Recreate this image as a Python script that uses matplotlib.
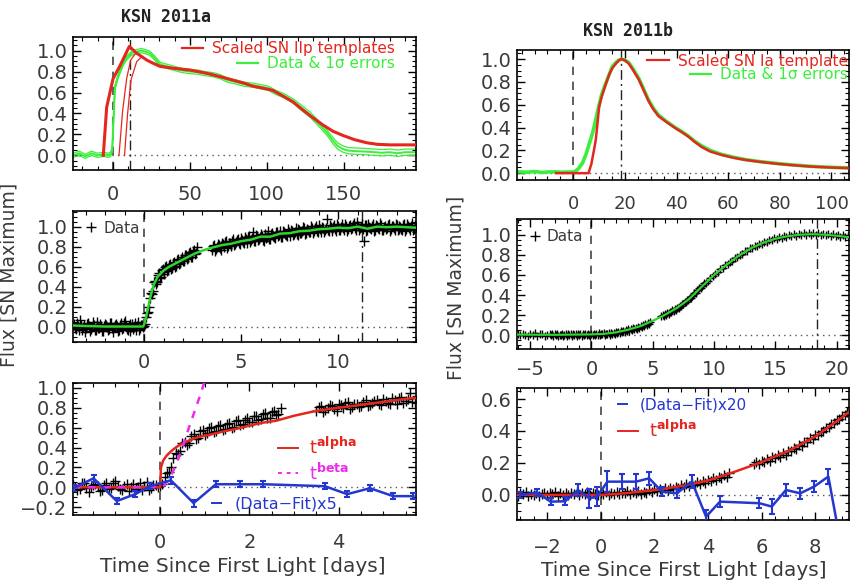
import matplotlib
matplotlib.use("Agg")
import matplotlib.pyplot as plt
from matplotlib.ticker import MultipleLocator, FixedLocator
from matplotlib.legend import Legend
from matplotlib.lines import Line2D

plt.rcParams['font.family'] = ['DejaVu Sans']
plt.rcParams['mathtext.fontset'] = 'dejavusans'

# ---------------- KSN 2011a ----------------
# full light curve (days since first light) with 1-sigma errors
a_lc_t = [-26, -22, -18, -14, -10, -6, -3, -1.5, -0.5, 0.5, 1.3, 3, 4.5, 6.7, 9, 12, 15, 18.6,
          21, 24, 27, 30.5, 35, 40, 45, 50, 55, 60, 65, 70, 74, 80, 85, 91, 96, 101, 106, 111,
          117, 122, 128, 132, 136.5, 140, 143, 146, 149.5, 153, 158, 165, 170, 175, 180, 185,
          190, 197]
a_lc_f = [0.00, 0.02, -0.01, 0.02, 0.00, 0.01, 0.00, 0.01, 0.05, 0.40, 0.65, 0.74, 0.80, 0.88,
          0.93, 0.975, 0.99, 1.00, 0.99, 0.975, 0.93, 0.87, 0.85, 0.83, 0.81, 0.80, 0.795, 0.78,
          0.77, 0.75, 0.72, 0.70, 0.68, 0.67, 0.655, 0.64, 0.60, 0.57, 0.52, 0.46, 0.39, 0.33,
          0.26, 0.20, 0.14, 0.09, 0.06, 0.045, 0.04, 0.035, 0.03, 0.025, 0.03, 0.02, 0.03, 0.03]
a_lc_err = [0.02, 0.02, 0.02, 0.02, 0.02, 0.02, 0.02, 0.02, 0.02, 0.02, 0.02, 0.02, 0.02, 0.02,
            0.02, 0.02, 0.02, 0.02, 0.02, 0.02, 0.02, 0.02, 0.02, 0.02, 0.02, 0.02, 0.02, 0.02,
            0.02, 0.02, 0.02, 0.02, 0.02, 0.02, 0.02, 0.02, 0.02, 0.02, 0.02, 0.025, 0.025, 0.025,
            0.025, 0.025, 0.03, 0.03, 0.03, 0.03, 0.03, 0.03, 0.03, 0.03, 0.03, 0.03, 0.03, 0.03]
# scaled SN IIp templates
a_tmpl_t = [-6.3, -4.1, 0, 4.7, 10.6, 15, 21.9, 26, 30.5, 40, 50, 62, 73.8, 85, 91, 98, 104,
            110, 117, 122, 128, 136.5, 143, 149.5, 157, 165, 172, 180, 197]
a_tmpl_f = [0.0, 0.46, 0.73, 0.86, 1.04, 0.98, 0.91, 0.88, 0.85, 0.83, 0.815, 0.78, 0.735,
            0.69, 0.66, 0.64, 0.62, 0.57, 0.51, 0.45, 0.38, 0.29, 0.23, 0.19, 0.15, 0.12,
            0.105, 0.10, 0.10]
a_tmpl2_t = [3.9, 6.3, 8.9, 11.5, 15.0]
a_tmpl2_f = [0.0, 0.43, 0.735, 0.91, 0.98]
a_tmpl3_t = [7.5, 9.5, 11.7, 15.4, 18.6, 22.0]
a_tmpl3_f = [0.0, 0.40, 0.72, 0.895, 0.94, 0.91]
a_peak = 11.2

# rise photometry (two interleaved cadences)
a_rise_t = [-3.6, -3.5, -3.4, -3.3, -3.2, -3.1, -3.0, -2.9, -2.8, -2.7, -2.6, -2.5, -2.4, -2.3,
            -2.2, -2.1, -2.0, -1.9, -1.8, -1.7, -1.6, -1.5, -1.4, -1.3, -1.2, -1.1, -1.0, -0.9,
            -0.8, -0.7, -0.6, -0.5, -0.4, -0.3, -0.2, -0.1, 0.0, 0.1, 0.2, 0.3, 0.4, 0.5, 0.6,
            0.7, 0.8, 0.9, 1.0, 1.1, 1.2, 1.3, 1.4, 1.5, 1.6, 1.7, 1.8, 1.9, 2.0, 2.1, 2.2, 2.3,
            2.4, 2.5, 2.6, 2.7,
            3.5, 3.6, 3.7, 3.8, 3.9, 4.0, 4.1, 4.2, 4.3, 4.4, 4.5, 4.6, 4.7, 4.8, 4.9, 5.0, 5.1,
            5.2, 5.3, 5.4, 5.5, 5.6, 5.7, 5.8, 5.9, 6.0, 6.1, 6.2, 6.3, 6.4, 6.5, 6.6, 6.7, 6.8,
            6.9, 7.0, 7.1, 7.2, 7.3, 7.4, 7.5, 7.6, 7.7, 7.8, 7.9, 8.0, 8.1, 8.2, 8.3, 8.4, 8.5,
            8.6, 8.7, 8.8, 8.9, 9.0, 9.1, 9.2, 9.3, 9.4, 9.5, 9.6, 9.7, 9.8, 9.9, 10.0, 10.1,
            10.2, 10.3, 10.4, 10.5, 10.6, 10.7, 10.8, 10.9, 11.0, 11.1, 11.2, 11.3, 11.4, 11.5,
            11.6, 11.7, 11.8, 11.9, 12.0, 12.1, 12.2, 12.3, 12.4, 12.5, 12.6, 12.7, 12.8, 12.9,
            13.0, 13.1, 13.2, 13.3, 13.4, 13.5, 13.6, 13.7, 13.8, 13.9, 14.0]
a_rise_f = [0.03, -0.02, 0.01, 0.07, -0.03, 0.02, -0.01, 0.04, -0.04, 0.00, 0.02, -0.03, 0.05,
            -0.01, 0.01, -0.04, 0.03, 0.00, -0.02, 0.04, -0.05, 0.02, 0.01, -0.03, 0.04, -0.01,
            0.06, -0.02, 0.01, -0.04, 0.03, 0.00, -0.03, 0.05, -0.01, 0.02, 0.01, 0.10, 0.15,
            0.29, 0.33, 0.45, 0.43, 0.52, 0.49, 0.57, 0.53, 0.60, 0.56, 0.62, 0.58, 0.64, 0.60,
            0.67, 0.63, 0.68, 0.66, 0.72, 0.68, 0.74, 0.70, 0.76, 0.73, 0.80,
            0.77, 0.82, 0.78, 0.83, 0.79, 0.84, 0.80, 0.86, 0.81, 0.84, 0.82, 0.88, 0.83, 0.87,
            0.84, 0.89, 0.85, 0.90, 0.84, 0.91, 0.87, 0.95, 0.86, 0.91, 0.88, 0.93, 0.87, 0.92,
            0.89, 0.96, 0.88, 0.94, 0.90, 0.95, 0.91, 0.96, 0.90, 0.95, 0.92, 0.98, 0.91, 0.96,
            0.93, 0.99, 0.92, 0.97, 0.94, 1.00, 0.93, 0.98, 0.95, 1.01, 0.94, 0.99, 0.96, 1.02,
            0.95, 0.99, 0.97, 1.08, 0.96, 1.00, 0.98, 1.02, 0.96, 1.01, 0.97, 1.03, 0.97, 1.01,
            0.98, 1.02, 0.99, 1.04, 0.97, 1.01, 0.99, 1.03, 0.86, 1.02, 0.97, 1.00, 0.98, 1.03,
            0.97, 1.01, 0.98, 1.02, 0.97, 1.01, 0.99, 1.03, 0.98, 1.01, 0.97, 1.02, 0.98, 1.00,
            0.97, 1.03, 0.98, 1.01, 0.97, 1.04, 0.98, 1.00]
a_rise2_t = [-3.55, -3.45, -3.35, -3.25, -3.15, -3.05, -2.95, -2.85, -2.75, -2.65, -2.55, -2.45,
             -2.35, -2.25, -2.15, -2.05, -1.95, -1.85, -1.75, -1.65, -1.55, -1.45, -1.35, -1.25,
             -1.15, -1.05, -0.95, -0.85, -0.75, -0.65, -0.55, -0.45, -0.35, -0.25, -0.15, -0.05,
             0.05, 0.15, 0.25, 0.35, 0.45, 0.55, 0.65, 0.75, 0.85, 0.95, 1.05, 1.15, 1.25, 1.35,
             1.45, 1.55, 1.65, 1.75, 1.85, 1.95, 2.05, 2.15, 2.25, 2.35, 2.45, 2.55, 2.65,
             3.55, 3.65, 3.75, 3.85, 3.95, 4.05, 4.15, 4.25, 4.35, 4.45, 4.55, 4.65, 4.75, 4.85,
             4.95, 5.05, 5.15, 5.25, 5.35, 5.45, 5.55, 5.65, 5.75, 5.85, 5.95, 6.05, 6.15, 6.25,
             6.35, 6.45, 6.55, 6.65, 6.75, 6.85, 6.95, 7.05, 7.15, 7.25, 7.35, 7.45, 7.55, 7.65,
             7.75, 7.85, 7.95, 8.05, 8.15, 8.25, 8.35, 8.45, 8.55, 8.65, 8.75, 8.85, 8.95, 9.05,
             9.15, 9.25, 9.35, 9.45, 9.55, 9.65, 9.75, 9.85, 9.95, 10.05, 10.15, 10.25, 10.35,
             10.45, 10.55, 10.65, 10.75, 10.85, 10.95, 11.05, 11.15, 11.25, 11.35, 11.45, 11.55,
             11.65, 11.75, 11.85, 11.95, 12.05, 12.15, 12.25, 12.35, 12.45, 12.55, 12.65, 12.75,
             12.85, 12.95, 13.05, 13.15, 13.25, 13.35, 13.45, 13.55, 13.65, 13.75, 13.85, 13.95]
a_rise2_f = [-0.01, 0.04, -0.03, 0.02, 0.00, -0.05, 0.03, 0.01, -0.02, 0.05, -0.03, 0.02, -0.01,
             0.03, -0.04, 0.01, 0.02, -0.03, 0.04, -0.01, 0.00, 0.03, -0.04, 0.02, -0.02, 0.04,
             0.01, -0.03, 0.03, 0.00, -0.02, 0.04, 0.01, -0.03, 0.02, 0.00,
             0.03, 0.14, 0.20, 0.34, 0.36, 0.46, 0.45, 0.54, 0.50, 0.58, 0.55, 0.61, 0.57, 0.63,
             0.59, 0.65, 0.61, 0.68, 0.64, 0.70, 0.66, 0.72, 0.69, 0.75, 0.70, 0.77, 0.74,
             0.81, 0.76, 0.80, 0.82, 0.77, 0.83, 0.85, 0.79, 0.84, 0.81, 0.86, 0.82, 0.85, 0.88,
             0.83, 0.87, 0.84, 0.88, 0.90, 0.85, 0.89, 0.86, 0.92, 0.87, 0.90, 0.91, 0.86, 0.93,
             0.90, 0.88, 0.93, 0.91, 0.89, 0.95, 0.92, 0.90, 0.96, 0.93, 0.91, 0.95, 0.97, 0.92,
             0.95, 0.93, 0.98, 0.94, 0.96, 0.99, 0.94, 0.97, 0.95, 0.99, 0.96, 1.01, 0.95, 0.98,
             1.00, 0.95, 0.99, 0.97, 1.02, 0.96, 1.00, 0.98, 1.03, 0.97, 1.00, 0.99, 1.03, 0.96,
             1.01, 0.98, 1.02, 0.99, 1.05, 0.97, 1.00, 0.98, 1.02, 0.96, 1.03, 0.99, 1.01, 0.96,
             1.02, 0.99, 1.04, 0.97, 1.00, 0.98, 1.02, 0.96, 1.01, 0.99, 1.03, 0.97, 1.01, 0.98,
             1.02, 0.96, 1.03, 0.99, 1.01, 0.97, 1.02]
a_smooth_t = [-3.66, -3.0, -2.0, -1.0, -0.05, 0.0, 0.1, 0.2, 0.3, 0.5, 0.7, 1.0, 1.3, 1.6, 2.0,
              2.3, 2.6, 3.0, 3.5, 4.0, 4.5, 5.0, 5.5, 6.0, 6.5, 7.0, 7.5, 8.0, 8.5, 9.0, 9.5,
              10.0, 10.5, 11.0, 11.5, 12.0, 12.5, 13.0, 13.5, 14.0]
a_smooth_f = [0.01, 0.005, 0.0, 0.0, 0.0, 0.02, 0.09, 0.18, 0.28, 0.42, 0.50, 0.56, 0.60, 0.63,
              0.67, 0.70, 0.73, 0.76, 0.79, 0.815, 0.83, 0.855, 0.87, 0.90, 0.90, 0.93, 0.935,
              0.955, 0.96, 0.975, 0.98, 0.99, 0.985, 1.0, 0.98, 1.0, 0.995, 1.0, 0.995, 0.99]
# early-time power-law fits and residuals
a_fit_t = [-1.95, -1.0, -0.02, 0.0, 0.02, 0.07, 0.15, 0.24, 0.35, 0.45, 0.6, 0.75, 0.9, 1.12,
           1.4, 1.72, 2.0, 2.3, 2.6, 3.0, 3.5, 4.0, 4.5, 5.0, 5.5, 5.73]
a_fit_f = [0.0, 0.0, 0.0, 0.0, 0.2, 0.27, 0.32, 0.36, 0.40, 0.43, 0.46, 0.49, 0.51, 0.53, 0.56,
           0.59, 0.62, 0.65, 0.67, 0.72, 0.77, 0.80, 0.83, 0.86, 0.89, 0.90]
a_beta_t = [-1.95, 0.0, 0.1, 0.2, 0.3, 0.4, 0.5, 0.6, 0.7, 0.8, 0.9, 1.0]
a_beta_f = [0.0, 0.0, 0.02, 0.08, 0.17, 0.28, 0.40, 0.54, 0.67, 0.80, 0.93, 1.07]
a_res_t = [-1.94, -1.49, -0.97, -0.56, -0.22, 0.24, 0.75, 1.25, 1.79, 2.31, 3.69, 4.19, 4.70,
           5.22, 5.67]
a_res_f = [-0.01, 0.09, -0.14, -0.07, 0.01, 0.07, -0.16, 0.03, 0.03, 0.03, 0.01, -0.07, -0.01,
           -0.09, -0.09]
a_res_e = [0.03, 0.035, 0.03, 0.03, 0.03, 0.035, 0.035, 0.03, 0.03, 0.03, 0.03, 0.03, 0.03,
           0.03, 0.03]

# ---------------- KSN 2011b ----------------
b_lc_t = [-21.8, -18, -15, -12, -10, -7, -5, -2, 0, 1.0, 2.0, 3.6, 5.0, 6.2, 7.2, 8.1, 9.0,
          10.0, 11.0, 12.6, 14.0, 15.1, 16.5, 17.5, 18.7, 20.0, 21.5, 23.0, 25.4, 27.0, 29.2,
          31.0, 33.0, 36.0, 39.5, 42.0, 44.6, 47.0, 49.7, 53.0, 57.4, 62.0, 66.4, 72.0, 79.0,
          85.0, 92.0, 99.0, 106.8]
b_lc_f = [0.012, 0.008, 0.014, 0.006, 0.010, 0.012, 0.008, 0.010, 0.010, 0.02, 0.04, 0.09,
          0.17, 0.26, 0.33, 0.41, 0.50, 0.60, 0.69, 0.79, 0.87, 0.935, 0.97, 0.99, 1.00, 0.99,
          0.97, 0.92, 0.83, 0.75, 0.64, 0.57, 0.51, 0.455, 0.40, 0.365, 0.325, 0.28, 0.24,
          0.20, 0.165, 0.14, 0.12, 0.102, 0.085, 0.072, 0.060, 0.052, 0.046]
b_tmpl_t = [-6.7, 5.9, 7.0, 8.0, 8.7, 9.3, 10.0, 11.0, 12.6, 14.0, 15.1, 16.5, 17.5, 18.5,
            19.5, 20.5, 21.5, 23.0, 25.4, 27.0, 29.2, 31.0, 33.0, 36.0, 39.5, 42.0, 44.6, 47.0,
            49.7, 53.0, 57.4, 62.0, 66.4, 72.0, 79.0, 85.0, 92.0, 99.0, 106.8]
b_tmpl_f = [0.0, 0.0, 0.08, 0.20, 0.29, 0.42, 0.58, 0.67, 0.78, 0.87, 0.92, 0.96, 0.985, 1.0,
            0.995, 0.98, 0.96, 0.91, 0.82, 0.74, 0.63, 0.56, 0.50, 0.45, 0.395, 0.36, 0.32,
            0.275, 0.23, 0.19, 0.16, 0.135, 0.117, 0.10, 0.082, 0.07, 0.058, 0.05, 0.044]
b_peak = 18.4

b_rise_t = [-6.0, -5.8, -5.6, -5.4, -5.2, -5.0, -4.8, -4.6, -4.4, -4.2, -4.0, -3.8, -3.6, -3.4,
            -3.3, -3.2, -3.1, -3.0, -2.9, -2.8, -2.7, -2.6, -2.5, -2.4, -2.3, -2.2, -2.1, -2.0,
            -1.9, -1.8, -1.7, -1.6, -1.5, -1.4, -1.3, -1.2, -1.1, -1.0, -0.9, -0.8, -0.7, -0.6,
            -0.5, -0.4, -0.3, -0.2, -0.1, 0.0, 0.1, 0.2, 0.3, 0.4, 0.5, 0.6, 0.7, 0.8, 0.9, 1.0,
            1.1, 1.2, 1.3, 1.4, 1.5, 1.6, 1.7, 1.8, 1.9, 2.0, 2.1, 2.2, 2.3, 2.4, 2.5, 2.6, 2.7,
            2.8, 2.9, 3.0, 3.1, 3.2, 3.3, 3.4, 3.5, 3.6, 3.7, 3.8, 3.9, 4.0, 4.1, 4.2, 4.3, 4.4,
            4.5, 4.6, 4.7, 4.8,
            5.7, 5.8, 5.9, 6.0, 6.1, 6.2, 6.3, 6.4, 6.5, 6.6, 6.7, 6.8, 6.9, 7.0, 7.1, 7.2, 7.3,
            7.4, 7.5, 7.6, 7.7, 7.8, 7.9, 8.0, 8.1, 8.2, 8.3, 8.4, 8.5, 8.6, 8.7, 8.8, 8.9, 9.0,
            9.1, 9.2, 9.3,
            9.5, 9.7, 9.9, 10.1, 10.3, 10.5, 10.7, 10.9, 11.1, 11.3, 11.5, 11.7, 11.9, 12.1,
            12.3, 12.5, 12.7, 12.9, 13.1, 13.3, 13.5, 13.7, 13.9, 14.1, 14.3, 14.5, 14.7, 14.9,
            15.1, 15.3, 15.5, 15.7, 15.9, 16.1, 16.3, 16.5, 16.7, 16.9, 17.1, 17.3, 17.5, 17.7,
            17.9, 18.1, 18.3, 18.5, 18.7, 18.9, 19.1, 19.3, 19.5, 19.7, 19.9, 20.1, 20.3, 20.5,
            20.7, 20.9]
b_rise_f = [0.012, 0.000, 0.018, 0.004, -0.008, 0.014, 0.002, 0.020, -0.006, 0.010, 0.016,
            -0.004, 0.008, 0.015,
            0.000, 0.012, -0.006, 0.010, 0.003, 0.016, -0.004, 0.008, 0.000, 0.014, -0.008,
            0.006, 0.012, -0.002, 0.010, 0.004, 0.017, -0.005, 0.009, 0.002, 0.015, -0.003,
            0.011, 0.005, 0.018, -0.002, 0.010, 0.004, 0.016, 0.000, 0.013, 0.006, -0.001,
            0.014, 0.004, 0.017, 0.002, 0.012, 0.007, 0.020, 0.003, 0.015, 0.009, 0.022, 0.006,
            0.018, 0.011, 0.024, 0.008, 0.020, 0.014, 0.028, 0.016, 0.034, 0.022, 0.038, 0.025,
            0.041, 0.030, 0.046, 0.036, 0.052, 0.042, 0.060, 0.048, 0.066, 0.055, 0.072, 0.060,
            0.078, 0.068, 0.084, 0.074, 0.093, 0.085, 0.103, 0.093, 0.112, 0.104, 0.124, 0.115,
            0.136,
            0.192, 0.205, 0.196, 0.214, 0.205, 0.224, 0.215, 0.236, 0.228, 0.248, 0.240, 0.262,
            0.252, 0.275, 0.272, 0.292, 0.290, 0.312, 0.309, 0.332, 0.330, 0.353, 0.350, 0.372,
            0.374, 0.396, 0.398, 0.421, 0.423, 0.446, 0.448, 0.470, 0.472, 0.494, 0.497, 0.518,
            0.522,
            0.545, 0.570, 0.585, 0.612, 0.628, 0.655, 0.668, 0.695, 0.708, 0.732, 0.742, 0.768,
            0.775, 0.802, 0.808, 0.834, 0.838, 0.864, 0.866, 0.890, 0.890, 0.912, 0.910, 0.932,
            0.930, 0.950, 0.945, 0.965, 0.960, 0.978, 0.970, 0.990, 0.980, 0.998, 0.988, 1.005,
            0.992, 1.012, 0.996, 1.014, 0.998, 1.016, 1.000, 1.018, 0.998, 1.016, 0.996, 1.012,
            0.994, 1.010, 0.990, 1.006, 0.986, 1.000, 0.980, 0.994, 0.974, 0.986]
b_smooth_t = [-6.07, -3.0, 0.0, 1.0, 2.0, 3.0, 4.0, 5.0, 6.0, 7.0, 8.0, 9.0, 10.0, 11.0, 12.0,
              13.0, 14.0, 15.0, 16.0, 17.0, 18.0, 19.0, 20.0, 21.0]
b_smooth_f = [0.008, 0.006, 0.010, 0.015, 0.030, 0.057, 0.092, 0.145, 0.205, 0.275, 0.365,
              0.485, 0.60, 0.70, 0.79, 0.865, 0.92, 0.96, 0.985, 1.0, 1.005, 1.0, 0.99, 0.975]
b_fit_t = [-3.12, 0.0, 0.5, 1.0, 2.0, 3.0, 4.0, 5.0, 6.0, 7.0, 8.0, 9.0, 9.26]
b_fit_f = [0.0, 0.0, 0.005, 0.012, 0.03, 0.055, 0.09, 0.145, 0.205, 0.275, 0.365, 0.485, 0.52]
b_res_t = [-2.99, -2.37, -1.87, -1.33, -0.84, -0.43, -0.13, 0.25, 0.78, 1.32, 1.81, 2.28, 2.84,
           3.40, 3.93, 4.45, 5.92, 6.38, 6.91, 7.44, 7.96, 8.49, 9.00]
b_res_f = [0.0, 0.015, -0.042, -0.040, 0.031, -0.021, -0.010, 0.083, 0.083, 0.083, 0.104,
           0.021, 0.010, 0.083, -0.136, -0.042, -0.052, -0.073, 0.031, 0.010, 0.052, 0.115,
           -0.35]
b_res_e = [0.02, 0.02, 0.02, 0.025, 0.04, 0.06, 0.06, 0.065, 0.045, 0.045, 0.04, 0.03, 0.03,
           0.04, 0.04, 0.035, 0.03, 0.045, 0.035, 0.035, 0.035, 0.045, 0.04]

# ---------------- styling ----------------
TXT = '#3a3a3a'
RED = '#e4261f'
GREEN = '#3cee3c'
FITGREEN = '#2ed42e'
BLUE = '#2437cf'
MAGENTA = '#ec2cec'
VLINE = '#444444'
DASH = (0, (5, 4))
DASHDOT = (0, (7, 3, 1.5, 3))
DOT = (0, (1, 3))
TICKSIZE = 14

W, H = 850, 580
fig = plt.figure(figsize=(W / 100, H / 100), dpi=100)


def box(l, t, r, b):
    return [l / W, 1 - b / H, (r - l) / W, (b - t) / H]


def style(ax, xlim, ylim, xmaj, xmin, ymaj, ymin, xpad):
    ax.set_xlim(xlim)
    ax.set_ylim(ylim)
    ax.xaxis.set_major_locator(MultipleLocator(xmaj))
    ax.xaxis.set_minor_locator(MultipleLocator(xmin))
    ax.yaxis.set_major_locator(MultipleLocator(ymaj))
    ax.yaxis.set_minor_locator(MultipleLocator(ymin))
    ax.tick_params(which='both', direction='in', top=True, right=True, color='k',
                   labelcolor=TXT, labelsize=TICKSIZE)
    ax.tick_params(which='major', length=6, width=1)
    ax.tick_params(which='minor', length=3, width=0.8)
    ax.tick_params(axis='x', pad=xpad)
    ax.tick_params(axis='y', pad=4)
    for s in ax.spines.values():
        s.set_linewidth(1.2)
    ax.axhline(0, color='#555555', ls=DOT, lw=1, zorder=1)


def key(ax, handle, label, color, anchor, loc='center right', size=11, hlen=1.4, tpad=0.6):
    leg = Legend(ax, [handle], [label], loc=loc, bbox_to_anchor=anchor, frameon=False,
                 fontsize=size, handlelength=hlen, handletextpad=tpad, borderpad=0.0,
                 borderaxespad=0.0, labelcolor=color)
    ax.add_artist(leg)


ax_a1 = fig.add_axes(box(73, 37, 416, 170))
ax_a2 = fig.add_axes(box(73, 211, 416, 342))
ax_a3 = fig.add_axes(box(73, 383, 416, 515))
ax_b1 = fig.add_axes(box(517, 50, 849, 180))
ax_b2 = fig.add_axes(box(517, 219, 849, 349))
ax_b3 = fig.add_axes(box(517, 388, 849, 520))

# ---- KSN 2011a, full light curve ----
ax = ax_a1
style(ax, (-26, 197), (-0.14, 1.13), 50, 10, 0.2, 0.05, 11)
ax.axvline(0, color=VLINE, ls=DASH, lw=1.2, zorder=1)
ax.axvline(a_peak, color='#222222', ls=DASHDOT, lw=1.0, zorder=1)
upper = [f + e for f, e in zip(a_lc_f, a_lc_err)]
lower = [f - e for f, e in zip(a_lc_f, a_lc_err)]
ax.plot(a_lc_t, upper, color=GREEN, lw=0.9, zorder=2)
ax.plot(a_lc_t, lower, color=GREEN, lw=0.9, zorder=2)
ax.plot(a_lc_t, a_lc_f, color=GREEN, lw=1.4, zorder=2)
ax.plot(a_tmpl2_t, a_tmpl2_f, color=RED, lw=0.9, zorder=3)
ax.plot(a_tmpl3_t, a_tmpl3_f, color=RED, lw=0.9, zorder=3)
ax.plot(a_tmpl_t, a_tmpl_f, color=RED, lw=2.2, zorder=3)
key(ax, Line2D([], [], color=RED, lw=1.6), 'Scaled SN IIp templates', RED, (0.939, 0.91))
key(ax, Line2D([], [], color=GREEN, lw=1.6), 'Data & 1σ errors', GREEN, (0.939, 0.80))

# ---- KSN 2011a, rise ----
ax = ax_a2
style(ax, (-3.66, 14.0), (-0.155, 1.157), 5, 1, 0.2, 0.05, 8)
ax.axvline(0, color=VLINE, ls=DASH, lw=1.2, zorder=1)
ax.axvline(a_peak, color='#222222', ls=DASHDOT, lw=1.0, zorder=1)
ax.plot(a_rise_t, a_rise_f, ls='none', marker='+', ms=6.5, mew=1.0, color='k', zorder=2)
ax.plot(a_rise2_t, a_rise2_f, ls='none', marker='+', ms=6.5, mew=1.0, color='k', zorder=2)
ax.plot(a_smooth_t, a_smooth_f, color=FITGREEN, lw=1.8, zorder=3)
key(ax, Line2D([], [], ls='none', marker='+', ms=7, mew=1.0, color='k'), 'Data', TXT,
    (0.035, 0.87), loc='center left', size=11, hlen=0.8, tpad=0.4)

# ---- KSN 2011a, first days ----
ax = ax_a3
style(ax, (-1.95, 5.73), (-0.28, 1.05), 2, 0.5, 0.2, 0.05, 13)
ax.axvline(0, color=VLINE, ls=DASH, lw=1.2, zorder=1)
ax.plot(a_rise_t, a_rise_f, ls='none', marker='+', ms=7, mew=1.0, color='k', zorder=2)
ax.plot(a_rise2_t, a_rise2_f, ls='none', marker='+', ms=7, mew=1.0, color='k', zorder=2)
ax.plot(a_fit_t, a_fit_f, color=RED, lw=1.8, zorder=3)
ax.plot(a_beta_t, a_beta_f, color=MAGENTA, lw=1.8, ls=(0, (3, 3)), zorder=3)
ax.errorbar(a_res_t, a_res_f, yerr=a_res_e, color=BLUE, lw=1.8, elinewidth=1.5, capsize=2.5,
            capthick=1.5, zorder=4)
key(ax, Line2D([], [], color=RED, lw=1.4), r'$\mathregular{t}^{\mathbf{alpha}}$', RED,
    (0.598, 0.51), loc='center left', size=13, hlen=1.1, tpad=0.6)
key(ax, Line2D([], [], color=MAGENTA, lw=1.4, ls=(0, (2, 2.5))),
    r'$\mathregular{t}^{\mathbf{beta}}$', MAGENTA, (0.598, 0.32), loc='center left', size=13,
    hlen=1.1, tpad=0.6)
key(ax, Line2D([], [], color=BLUE, lw=1.4), '(Data\u2212Fit)x5', BLUE, (0.405, 0.08),
    loc='center left', size=11.5, hlen=0.6, tpad=0.8)

# ---- KSN 2011b, full light curve ----
ax = ax_b1
style(ax, (-21.8, 106.8), (-0.06, 1.08), 20, 5, 0.2, 0.05, 11)
ax.xaxis.set_major_locator(FixedLocator([0, 20, 40, 60, 80, 100]))
ax.tick_params(axis='x', labelsize=13)
ax.axvline(0, color=VLINE, ls=DASH, lw=1.2, zorder=1)
ax.axvline(b_peak, color='#222222', ls=DASHDOT, lw=1.0, zorder=1)
ax.plot(b_lc_t, b_lc_f, color=GREEN, lw=2.6, zorder=2)
ax.plot(b_tmpl_t, b_tmpl_f, color=RED, lw=1.8, zorder=3)
key(ax, Line2D([], [], color=RED, lw=1.6), 'Scaled SN Ia template', RED, (0.997, 0.915))
key(ax, Line2D([], [], color=GREEN, lw=1.6), 'Data & 1σ errors', GREEN, (0.997, 0.81))

# ---- KSN 2011b, rise ----
ax = ax_b2
style(ax, (-6.07, 21.0), (-0.135, 1.156), 5, 1, 0.2, 0.05, 8)
ax.axvline(0, color=VLINE, ls=DASH, lw=1.2, zorder=1)
ax.axvline(b_peak, color='#222222', ls=DASHDOT, lw=1.0, zorder=1)
ax.plot(b_rise_t, b_rise_f, ls='none', marker='+', ms=6, mew=1.0, color='k', zorder=2)
ax.plot(b_smooth_t, b_smooth_f, color=FITGREEN, lw=1.6, zorder=3)
key(ax, Line2D([], [], ls='none', marker='+', ms=7, mew=1.0, color='k'), 'Data', TXT,
    (0.035, 0.864), loc='center left', size=11, hlen=0.8, tpad=0.4)

# ---- KSN 2011b, first days ----
ax = ax_b3
style(ax, (-3.12, 9.26), (-0.157, 0.669), 2, 0.5, 0.2, 0.05, 13)
ax.axvline(0, color=VLINE, ls=DASH, lw=1.2, zorder=1)
ax.plot(b_rise_t, b_rise_f, ls='none', marker='+', ms=7, mew=1.0, color='k', zorder=2)
ax.plot(b_fit_t, b_fit_f, color=RED, lw=1.8, zorder=3)
ax.errorbar(b_res_t, b_res_f, yerr=b_res_e, color=BLUE, lw=1.8, elinewidth=1.5, capsize=2.5,
            capthick=1.5, zorder=4)
key(ax, Line2D([], [], color=BLUE, lw=1.4), '(Data\u2212Fit)x20', BLUE, (0.304, 0.87),
    loc='center left', size=11, hlen=0.6, tpad=0.8)
key(ax, Line2D([], [], color=RED, lw=1.4), r'$\mathregular{t}^{\mathbf{alpha}}$', RED,
    (0.304, 0.68), loc='center left', size=13, hlen=1.1, tpad=0.6)

# ---- titles and axis captions ----
fig.text(166 / W, 1 - 17 / H, 'KSN 2011a', ha='center', va='center',
         family='DejaVu Sans Mono', weight='bold', size=12, color='#222222')
fig.text(628 / W, 1 - 31 / H, 'KSN 2011b', ha='center', va='center',
         family='DejaVu Sans Mono', weight='bold', size=12, color='#222222')
fig.text(9 / W, 1 - 275 / H, 'Flux [SN Maximum]', rotation=90, ha='center', va='center',
         size=13.5, color=TXT)
fig.text(456 / W, 1 - 288 / H, 'Flux [SN Maximum]', rotation=90, ha='center', va='center',
         size=13.5, color=TXT)
fig.text(243 / W, 1 - 567 / H, 'Time Since First Light [days]', ha='center', va='center',
         size=14.5, color=TXT)
fig.text(684 / W, 1 - 570 / H, 'Time Since First Light [days]', ha='center', va='center',
         size=14.5, color=TXT)

fig.savefig('out.png', dpi=100)
